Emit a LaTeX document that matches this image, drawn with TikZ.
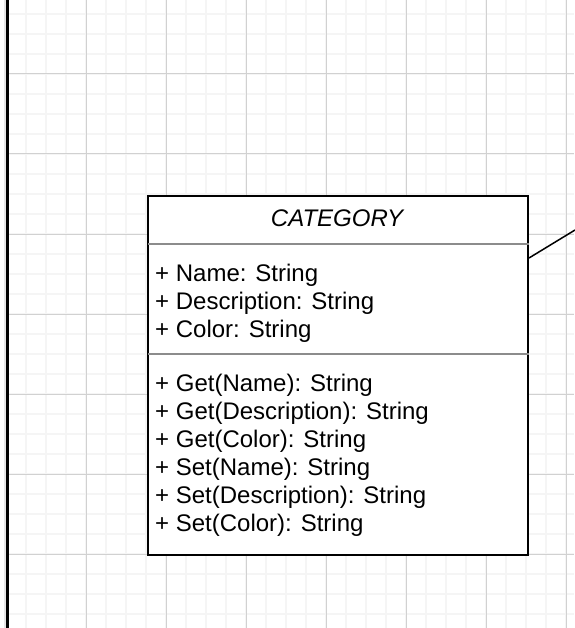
\documentclass[tikz,border=0pt]{standalone}
\usepackage{fontspec}
\setmainfont{Liberation Sans}
\begin{document}
\begin{tikzpicture}[x=1pt,y=-1pt,
  minorgrid/.style={draw=black!4,line width=1.8pt},
  majorgrid/.style={draw=black!18,line width=1pt},
  umlbox/.style={draw=black,line width=2pt,fill=white,minimum width=380pt,minimum height=359pt,inner sep=0pt,anchor=north west},
  divider/.style={draw=black!45,line width=2pt},
  member/.style={anchor=base west,inner sep=0pt,font=\fontsize{24}{28}\selectfont},
  title/.style={anchor=base,inner sep=0pt,font=\fontsize{24}{28}\selectfont\itshape},
  link/.style={draw=black,line width=1.5pt}]
\useasboundingbox (0,0) rectangle (574,628);
\fill[white] (0,0) rectangle (574,628);
% grid
\foreach \x in {26,46,...,566} {\draw[minorgrid] (\x,0) -- (\x,628);}
\foreach \y in {14,34,...,634} {\draw[minorgrid] (7,\y) -- (574,\y);}
\foreach \x in {86,166,...,566} {\draw[majorgrid] (\x,0) -- (\x,628);}
\foreach \y in {74,154,...,634} {\draw[majorgrid] (7,\y) -- (574,\y);}
% left border line
\draw[draw=black!10,line width=2pt] (5,0) -- (5,628);
\draw[draw=black,line width=2.2pt] (7.5,0) -- (7.5,628);
% class box
\node[umlbox] (cat) at (147,195) {};
\draw[divider] (cat.north west) ++(1,49) coordinate (d1l) -- (d1l -| cat.east);
\draw[divider] (cat.north west) ++(1,159) coordinate (d2l) -- (d2l -| cat.east);
\node[title] (ttl) at (337,226) {CATEGORY};
\node[member] (a1) at (155,281) {+ Name: String};
\node[member] (a2) at (155,309) {+ Description: String};
\node[member] (a3) at (155,337) {+ Color: String};
\node[member] (m1) at (155,391) {+ Get(Name): String};
\node[member] (m2) at (155,419) {+ Get(Description): String};
\node[member] (m3) at (155,447) {+ Get(Color): String};
\node[member] (m4) at (155,475) {+ Set(Name): String};
\node[member] (m5) at (155,503) {+ Set(Description): String};
\node[member] (m6) at (155,531) {+ Set(Color): String};
% connector leaving the box
\coordinate (catR) at (cat.north east |- 0,258);
\coordinate (edgeEnd) at (575,230);
\draw[link] (catR) -- (edgeEnd);
\end{tikzpicture}
\end{document}
